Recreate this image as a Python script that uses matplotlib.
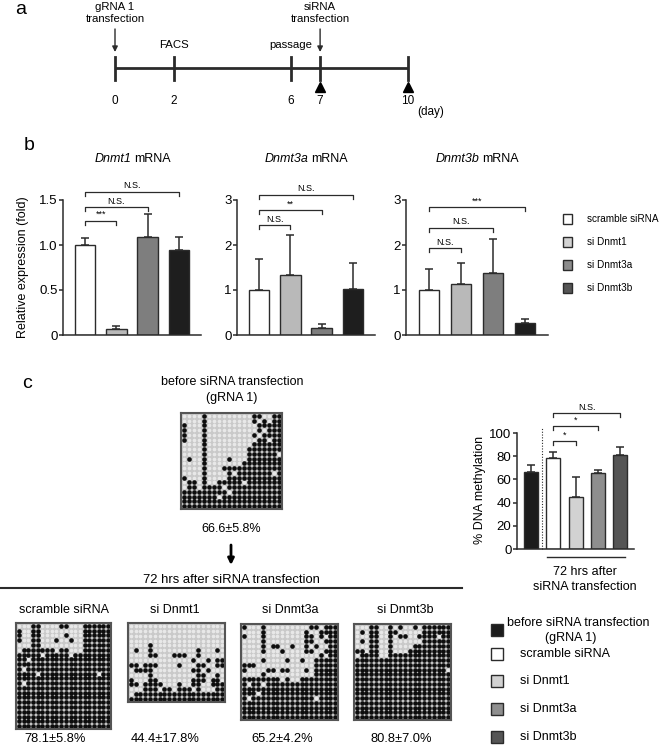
import numpy as np
import matplotlib
matplotlib.use("Agg")
import matplotlib.pyplot as plt
from matplotlib.patches import Rectangle
from matplotlib.ticker import FuncFormatter

plt.rcParams["font.family"] = ["Liberation Sans", "DejaVu Sans"]

# ---------------- data ----------------
# panel a: timeline (days)
tick_days = [0, 2, 6, 7, 10]
arrow_days = [0, 7]
arrow_labels = ["gRNA 1\ntransfection", "siRNA\ntransfection"]
note_days = [2, 6]
note_labels = ["FACS", "passage"]
harvest_days = [7, 10]

# panel b: relative mRNA expression (fold)
groups = ["scramble siRNA", "si Dnmt1", "si Dnmt3a", "si Dnmt3b"]
genes = ["Dnmt1", "Dnmt3a", "Dnmt3b"]
dnmt1_mean = [1.00, 0.07, 1.09, 0.94]
dnmt1_err = [0.08, 0.03, 0.26, 0.15]
dnmt3a_mean = [1.00, 1.33, 0.15, 1.02]
dnmt3a_err = [0.70, 0.90, 0.10, 0.57]
dnmt3b_mean = [1.00, 1.13, 1.38, 0.27]
dnmt3b_err = [0.47, 0.48, 0.75, 0.09]
# (compared bar, bracket height, label) – always against scramble siRNA
dnmt1_sig = [(1, 1.27, "***"), (2, 1.42, "N.S."), (3, 1.59, "N.S.")]
dnmt3a_sig = [(1, 2.44, "N.S."), (2, 2.78, "**"), (3, 3.11, "N.S.")]
dnmt3b_sig = [(1, 1.93, "N.S."), (2, 2.38, "N.S."), (3, 2.84, "***")]

# panel c: % DNA methylation
meth_groups = ["before siRNA transfection\n(gRNA 1)", "scramble siRNA",
               "si Dnmt1", "si Dnmt3a", "si Dnmt3b"]
meth_mean = [66.6, 78.1, 44.4, 65.2, 80.8]
meth_sd = [5.8, 5.8, 17.8, 4.2, 7.0]
meth_err = [5.8, 5.8, 17.8, 2.8, 7.0]
meth_sig = [(2, 93, "*"), (3, 106, "*"), (4, 117, "N.S.")]

# bisulfite clones: 1 = methylated CpG, 0 = unmethylated
clones_before = [
    "00001000000000110011",
    "00001000000000101011",
    "10001000000000011111",
    "10001000000000010111",
    "10001000000000101111",
    "10001000000000011011",
    "00001000000000111111",
    "00001000000001111111",
    "00001000000001111110",
    "01001000010001111111",
    "00001000000011111111",
    "00001000111111111111",
    "00001000010111111101",
    "10001000011111111111",
    "01101001111101111111",
    "01101111011111111111",
    "11111111101111111111",
    "11111110111111111111",
    "11111111111111111111",
    "11111111111111111111",
]
clones_scramble = [
    "00011000011000111111",
    "10011000000000111111",
    "10011000001000111111",
    "10011000100100111111",
    "00011000000000111111",
    "01111111011000111111",
    "11111011111011111111",
    "11011111111111111111",
    "11111111111111111111",
    "10111111111111111111",
    "11110111111111111011",
    "11111111111111111111",
    "10111111111111111111",
    "11111111111111111111",
    "11111111111111111111",
    "11111111111111111111",
    "11111111111111111111",
    "11111111111111111111",
    "11111111111111111111",
    "11111111111111111111",
    "11111111111111111111",
    "11111111111111111111",
]
clones_si1 = [
    "00000000000000000000",
    "00000000000000000000",
    "00000000000000000000",
    "00000000000000000000",
    "00001000000000000000",
    "01001000000000100010",
    "00001100011100100000",
    "00000000000001001011",
    "11011100001000110011",
    "01111000000001101000",
    "00001000000000110010",
    "10001100000001110110",
    "11011110001001100111",
    "00011101101110100011",
    "01111111111111111111",
    "11111111111111111111",
]
clones_si3a = [
    "10001000000000110111",
    "00001000000001001111",
    "10001000000001101011",
    "00001000000001100111",
    "00001011001001010011",
    "00001000100001100111",
    "00000000000000001011",
    "00001000010010011111",
    "11100000000000011111",
    "10000110110001011111",
    "00001000000000011111",
    "11111111010011111111",
    "10110111111111111111",
    "11111111111111111111",
    "11101111111111111111",
    "10111111111111101111",
    "11111111111111111111",
    "11111111111111111111",
    "11111111111111111111",
    "11111111111111111111",
]
clones_si3b = [
    "00011001010010111111",
    "01011001100000111111",
    "00011001011001111011",
    "01011001000000111111",
    "00011001000011111111",
    "11011001000111111111",
    "01111001111111111111",
    "11111111111111111111",
    "11111111111111111111",
    "11111111111111111110",
    "11111111111111111111",
    "11111111111111111111",
    "11111111111111111111",
    "11111111111111111111",
    "11111111111111111111",
    "11111111111111111111",
    "11111111111111111111",
    "11111111111111111111",
    "11111111111111111111",
    "11111111111111111111",
]

# ---------------- layout helpers ----------------
W, H = 660, 750
fig = plt.figure(figsize=(W / 100, H / 100), dpi=100)
fig.patch.set_facecolor("white")

def px_axes(x0, y0, x1, y1):
    return fig.add_axes([x0 / W, 1 - y1 / H, (x1 - x0) / W, (y1 - y0) / H])

ink = "#2b2b2b"
bar_cols = ["white", "#b9b9b9", "#7e7e7e", "#1e1e1e"]
leg_cols = ["white", "#d3d3d3", "#8c8c8c", "#555555"]
meth_cols = ["#1c1c1c", "white", "#d2d2d2", "#8e8e8e", "#555555"]

# overlay in pixel coordinates for free text
ov = px_axes(0, 0, W, H)
ov.set_xlim(0, W)
ov.set_ylim(H, 0)
ov.axis("off")

ov.text(21, 10, "a", fontsize=14, ha="center", va="center")
ov.text(29, 145, "b", fontsize=14, ha="center", va="center")
ov.text(27, 383, "c", fontsize=14, ha="center", va="center")

# ---------------- panel a ----------------
ta = px_axes(115, 0, 408, 120)
ta.set_xlim(0, 10)
ta.set_ylim(120, 0)
ta.axis("off")
ta.plot([min(tick_days), max(tick_days)], [68, 68], color=ink, lw=2)
for d in tick_days:
    ta.plot([d, d], [57, 80], color=ink, lw=2, clip_on=False)
    ta.text(d, 101, str(d), ha="center", va="center", fontsize=8.5)
ta.text(10.3, 112, "(day)", ha="left", va="center", fontsize=8.5,
        clip_on=False)
for d, lab in zip(arrow_days, arrow_labels):
    ta.text(d, 13, lab, ha="center", va="center", fontsize=8.2,
            linespacing=1.15)
    ta.annotate("", xy=(d, 52), xytext=(d, 29),
                arrowprops=dict(arrowstyle="-|>", color=ink, lw=1,
                                mutation_scale=8, shrinkA=0, shrinkB=0))
for d, lab in zip(note_days, note_labels):
    ta.text(d, 45, lab, ha="center", va="center", fontsize=8.2)
ta.plot(harvest_days, [87] * len(harvest_days), "^", color="black",
        markersize=7, clip_on=False)

# ---------------- panel b ----------------
def style_ax(ax, size):
    ax.set_facecolor("none")
    for s in ["top", "right"]:
        ax.spines[s].set_visible(False)
    for s in ["left", "bottom"]:
        ax.spines[s].set_linewidth(1.1)
        ax.spines[s].set_color(ink)
    ax.tick_params(axis="x", length=0, labelbottom=False)
    ax.tick_params(axis="y", length=3, width=1.1, color=ink, labelsize=size,
                   pad=1)

def bracket(ax, x0, x1, y, label, h):
    ax.plot([x0, x0, x1, x1], [y - h, y, y, y - h], color=ink, lw=0.9,
            clip_on=False)
    ax.text((x0 + x1) / 2, y + h * 0.4, label, ha="center", va="bottom",
            fontsize=6.5, clip_on=False)

b_means = [dnmt1_mean, dnmt3a_mean, dnmt3b_mean]
b_errs = [dnmt1_err, dnmt3a_err, dnmt3b_err]
b_sigs = [dnmt1_sig, dnmt3a_sig, dnmt3b_sig]
b_boxes = [(63, 200, 201, 335), (237, 200, 375, 335), (406, 200, 548, 335)]
b_tops = [1.5, 3, 3]
b_ticks = [[0, 0.5, 1.0, 1.5], [0, 1, 2, 3], [0, 1, 2, 3]]
b_title_split = [132, 309, 480]
x = np.arange(len(groups))
for i in range(3):
    ax = px_axes(*b_boxes[i])
    style_ax(ax, 9.5)
    ax.bar(x, b_means[i], width=0.65, color=bar_cols, edgecolor=ink, lw=1)
    ax.errorbar(x, b_means[i], yerr=[np.zeros(4), b_errs[i]], fmt="none",
                ecolor=ink, elinewidth=1.1, capsize=3, capthick=1.1)
    ax.set_xlim(-0.72, 3.72)
    ax.set_ylim(0, b_tops[i])
    ax.set_yticks(b_ticks[i])
    if i == 0:
        ax.yaxis.set_major_formatter(FuncFormatter(
            lambda v, _: "0" if v == 0 else f"{v:.1f}"))
    else:
        ax.yaxis.set_major_formatter(FuncFormatter(lambda v, _: f"{v:.0f}"))
    for j, yb, lab in b_sigs[i]:
        bracket(ax, 0, j, yb, lab, 0.03 * b_tops[i])
    ov.text(b_title_split[i] - 1, 159, genes[i], style="italic", ha="right",
            va="center", fontsize=9)
    ov.text(b_title_split[i] + 2, 159, "mRNA", ha="left", va="center",
            fontsize=9)
ov.text(23, 267, "Relative expression (fold)", rotation=90, ha="center",
        va="center", fontsize=9)

for k, (lab, col) in enumerate(zip(groups, leg_cols)):
    yc = 219 + k * 23
    ov.add_patch(Rectangle((563, yc - 5), 9, 10, facecolor=col,
                           edgecolor=ink, lw=1))
    ov.text(587, yc, lab, ha="left", va="center", fontsize=7.2)

# ---------------- panel c: bisulfite grids ----------------
def clone_grid(box, rows):
    ax = px_axes(*box)
    m = np.array([[c == "1" for c in r] for r in rows])
    yy, xx = np.nonzero(m)
    yu, xu = np.nonzero(~m)
    ax.set_facecolor("#c9c9c9")
    ax.scatter(xu, yu, s=7, c="#e8e8e8", linewidths=0)
    ax.scatter(xx, yy, s=11, c="#0d0d0d", linewidths=0)
    ax.set_xlim(-0.6, m.shape[1] - 0.4)
    ax.set_ylim(m.shape[0] - 0.4, -0.6)
    ax.set_xticks([])
    ax.set_yticks([])
    for s in ax.spines.values():
        s.set_color("#555555")
        s.set_linewidth(1.5)

clone_grid((181, 413, 282, 509), clones_before)
ov.text(232, 382, "before siRNA transfection", ha="center", va="center", fontsize=9)
ov.text(232, 398, "(gRNA 1)", ha="center", va="center", fontsize=9)
ov.text(231, 529, f"{meth_mean[0]}±{meth_sd[0]}%", ha="center", va="center",
        fontsize=9)
ov.annotate("", xy=(231, 565), xytext=(231, 545),
            arrowprops=dict(arrowstyle="-|>", color="black", lw=2,
                            mutation_scale=9, shrinkA=0, shrinkB=0))
ov.text(231, 580, "72 hrs after siRNA transfection", ha="center", va="center",
        fontsize=9.4)
ov.plot([0, 462], [588, 588], color=ink, lw=1.5)

after_clones = [clones_scramble, clones_si1, clones_si3a, clones_si3b]
after_boxes = [(16, 623, 111, 729), (128, 623, 225, 702),
               (241, 624, 338, 720), (354, 624, 451, 720)]
label_x = [64, 175, 290, 405]
pct_x = [55, 165, 282, 401]
for k in range(4):
    clone_grid(after_boxes[k], after_clones[k])
    ov.text(label_x[k], 610, meth_groups[k + 1], ha="center", va="center",
            fontsize=9)
    ov.text(pct_x[k], 739, f"{meth_mean[k + 1]}±{meth_sd[k + 1]}%",
            ha="center", va="center", fontsize=9.3)

# ---------------- panel c: bar chart ----------------
axc = px_axes(517, 433, 634, 549)
style_ax(axc, 9.5)
xc = np.arange(len(meth_mean))
axc.bar(xc, meth_mean, width=0.63, color=meth_cols, edgecolor=ink, lw=1)
axc.errorbar(xc, meth_mean, yerr=[np.zeros(5), meth_err], fmt="none",
             ecolor=ink, elinewidth=1.1, capsize=3, capthick=1.1)
axc.set_xlim(-0.63, 4.62)
axc.set_ylim(0, 100)
axc.set_yticks(range(0, 101, 20))
axc.plot([0.5, 0.5], [0, 104], ls=(0, (1, 1.5)), color=ink, lw=0.8,
         clip_on=False)
for j, yb, lab in meth_sig:
    bracket(axc, 1, j, yb, lab, 3.5)
ov.text(480, 490, "% DNA methylation", rotation=90, ha="center", va="center",
        fontsize=9)
ov.plot([547, 625], [557, 557], color=ink, lw=1)
ov.text(585, 572, "72 hrs after", ha="center", va="center", fontsize=9)
ov.text(585, 587, "siRNA transfection", ha="center", va="center", fontsize=9)

leg_y = [630, 654, 681, 709, 737]
for k, (lab, col) in enumerate(zip(meth_groups, meth_cols)):
    ov.add_patch(Rectangle((491, leg_y[k] - 6), 12, 12, facecolor=col,
                           edgecolor=ink, lw=1))
    if k == 0:
        ov.text(578, 623, "before siRNA transfection", ha="center",
                va="center", fontsize=9)
        ov.text(571, 638, "(gRNA 1)", ha="center", va="center", fontsize=9)
    else:
        ov.text(520, leg_y[k], lab, ha="left", va="center", fontsize=9)

fig.savefig("out.png", dpi=100, facecolor="white")
